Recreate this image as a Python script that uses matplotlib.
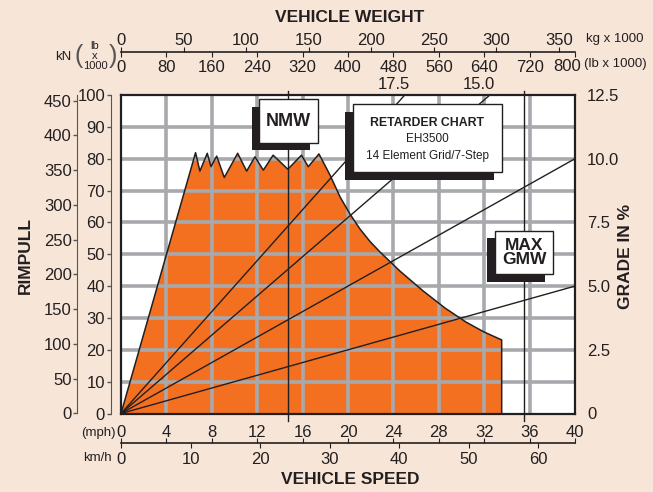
import matplotlib
matplotlib.use("Agg")
import matplotlib.pyplot as plt
from matplotlib.patches import Rectangle
from matplotlib import font_manager

# ---------- data ----------
# retarder curve: vehicle speed (mph) vs rimpull (lb x 1000)
speed_mph = [0, 6.57, 6.95, 7.6, 7.93, 8.43, 9.1, 10.28, 11.07, 11.8, 12.54, 13.4, 14.7,
             15.9, 16.5, 17.44, 18.41, 19.3, 20.18, 21.06, 21.94, 22.82, 24.58, 26.61,
             28.55, 30.4, 31.98, 33.54, 33.54]
rimpull_klb = [0, 81.9, 76.1, 81.7, 77.5, 80.8, 74.1, 81.7, 76.1, 80.6, 76.4, 81.1, 76.7,
               81.1, 77.5, 81.5, 74.9, 68.0, 62.6, 57.9, 54.0, 50.7, 44.7, 38.5,
               33.1, 28.7, 25.6, 23.1, 0]

# grade lines: end point (weight lb x 1000, rimpull lb x 1000)
grade_labels = ["17.5", "15.0", "10.0", "5.0"]
grade_end_weight = [500, 650, 800, 800]
grade_end_rimpull = [100, 100, 80, 40]

nmw_weight = 295      # lb x 1000
gmw_weight = 711      # lb x 1000

mph_ticks = [0, 4, 8, 12, 16, 20, 24, 28, 32, 36, 40]
kmh_ticks = [0, 10, 20, 30, 40, 50, 60]
lbw_ticks = [0, 80, 160, 240, 320, 400, 480, 560, 640, 720, 800]
kg_ticks = [0, 50, 100, 150, 200, 250, 300, 350]
rim_lb_ticks = [0, 10, 20, 30, 40, 50, 60, 70, 80, 90, 100]
rim_kn_ticks = [0, 50, 100, 150, 200, 250, 300, 350, 400, 450]
grade_ticks = [0, 2.5, 5.0, 7.5, 10.0, 12.5]
grade_ticklabels = ["0", "2.5", "5.0", "7.5", "10.0", "12.5"]

# ---------- style ----------
BG = "#F7E6D8"
ORANGE = "#F37021"
GRID = "#A7A9AC"
INK = "#231F20"
AXC = "#555555"

names = {f.name for f in font_manager.fontManager.ttflist}
if "Liberation Sans Narrow" in names:
    NARROW, TSIZE, BSIZE, BSIZE_B = "Liberation Sans Narrow", 14, 10.2, 10.5
else:
    NARROW, TSIZE, BSIZE, BSIZE_B = "Liberation Sans", 12.5, 8.5, 8.8
plt.rcParams["font.family"] = ["Liberation Sans", "DejaVu Sans"]

W, H = 653, 492
fig = plt.figure(figsize=(W / 100, H / 100), dpi=100)
fig.patch.set_facecolor(BG)

def fx(x):
    return x / W

def fy(y):
    return 1 - y / H

PT = 0.72  # points per pixel at dpi 100

# main plot box
L, R, T, B = 121, 575, 95, 413.5
ax = fig.add_axes([fx(L), fy(B), (R - L) / W, (B - T) / H])
ax.set_xlim(0, 40)
ax.set_ylim(0, 100)
ax.set_facecolor("white")
ax.set_xticks([])
ax.set_yticks([])
for s in ax.spines.values():
    s.set_color(INK)
    s.set_linewidth(1.6)
    s.set_zorder(6)

ax.fill(speed_mph, rimpull_klb, color=ORANGE, lw=0, zorder=1)
for v in mph_ticks[1:-1]:
    ax.axvline(v, color=GRID, lw=2.6, zorder=2)
for v in rim_lb_ticks[1:-1]:
    ax.axhline(v, color=GRID, lw=2.6, zorder=2)
ax.plot(speed_mph, rimpull_klb, color=INK, lw=1.1, zorder=3)

w2x = 40 / 800  # weight (lb x 1000) -> speed-axis units, both span the box width
for lab, we, re in zip(grade_labels, grade_end_weight, grade_end_rimpull):
    ax.plot([0, we * w2x], [0, re], color=INK, lw=1.0, zorder=4)
    if re >= 100:
        ax.annotate(lab, (we * w2x, 100), xytext=(-8, 2), textcoords="offset points",
                    ha="center", va="bottom", fontsize=12, color=INK, annotation_clip=False)

for wv in [nmw_weight, gmw_weight]:
    ax.plot([wv * w2x, wv * w2x], [-2.2, 101.3], color=INK, lw=1.0, zorder=5, clip_on=False)

# rimpull lb axis (left, inner)
ax_lb = ax.twinx()
ax_lb.set_ylim(0, 100)
ax_lb.yaxis.tick_left()
for k, s in ax_lb.spines.items():
    s.set_visible(k == "left")
ax_lb.spines["left"].set_position(("outward", 10.5 * PT))
ax_lb.spines["left"].set_color(AXC)
ax_lb.set_yticks(rim_lb_ticks)
ax_lb.tick_params(axis="y", direction="out", length=4 * PT, width=1, color=AXC,
                  pad=1, labelsize=12, labelcolor=INK)

# rimpull kN axis (left, outer)
ax_kn = ax.twinx()
ax_kn.set_ylim(0, 458.2)
ax_kn.yaxis.tick_left()
for k, s in ax_kn.spines.items():
    s.set_visible(k == "left")
ax_kn.spines["left"].set_position(("outward", 44 * PT))
ax_kn.spines["left"].set_color(AXC)
ax_kn.set_yticks(rim_kn_ticks)
ax_kn.tick_params(axis="y", direction="out", length=4 * PT, width=1, color=AXC,
                  pad=1, labelsize=12, labelcolor=INK)

# grade axis (right)
ax_g = ax.twinx()
ax_g.set_ylim(0, 12.5)
for s in ax_g.spines.values():
    s.set_visible(False)
ax_g.set_yticks(grade_ticks)
ax_g.set_yticklabels(grade_ticklabels)
ax_g.tick_params(axis="y", length=0, pad=12 * PT, labelsize=12, labelcolor=INK)

# vehicle weight axis (top)
axT = fig.add_axes([fx(L), fy(52.3), (R - L) / W, 0.0001])
axT.patch.set_visible(False)
axT.set_xlim(0, 800)
axT.set_yticks([])
for k, s in axT.spines.items():
    s.set_visible(k == "bottom")
axT.spines["bottom"].set_color(INK)
axT.spines["bottom"].set_linewidth(1.2)
axT.set_xticks(lbw_ticks)
# last label is set a little to the left so it clears the unit text
axT.set_xticklabels([str(v) for v in lbw_ticks[:-1]] + [""])
axT.tick_params(axis="x", direction="out", length=5 * PT, color=INK, pad=2.2,
                labelsize=12, labelcolor=INK)
axT.annotate(str(lbw_ticks[-1]), (lbw_ticks[-1], 0), xytext=(-6, -4.5),
             textcoords="offset points", ha="center", va="top", fontsize=12, color=INK,
             annotation_clip=False)
axK = axT.twiny()
axK.set_xlim(0, 800 / 2.2046)
for s in axK.spines.values():
    s.set_visible(False)
axK.set_xticks(kg_ticks)
axK.tick_params(axis="x", direction="out", length=5 * PT, color=INK, pad=-0.5,
                labelsize=12, labelcolor=INK)

# vehicle speed axis (bottom)
axB = fig.add_axes([fx(L), fy(443.3), (R - L) / W, 0.0001])
axB.patch.set_visible(False)
axB.set_xlim(0, 65.3)
axB.set_yticks([])
for k, s in axB.spines.items():
    s.set_visible(k == "bottom")
axB.spines["bottom"].set_color(INK)
axB.spines["bottom"].set_linewidth(1.2)
axB.set_xticks(kmh_ticks)
axB.tick_params(axis="x", direction="out", length=5 * PT, color=INK, pad=3,
                labelsize=12, labelcolor=INK)
axM = axB.twiny()
axM.set_xlim(0, 40)
for s in axM.spines.values():
    s.set_visible(False)
axM.set_xticks(mph_ticks)
axM.tick_params(axis="x", direction="out", length=5 * PT, color=INK, pad=-1.5,
                labelsize=12, labelcolor=INK)

# ---------- boxes ----------
def rect_px(x0, y0, x1, y1, **kw):
    fig.add_artist(Rectangle((fx(x0), fy(y1)), (x1 - x0) / W, (y1 - y0) / H,
                             transform=fig.transFigure, **kw))

def label_box(x0, y0, x1, y1, dx, dy):
    rect_px(x0 + dx, y0 + dy, x1 + dx, y1 + dy, facecolor=INK, edgecolor="none", zorder=10)
    rect_px(x0, y0, x1, y1, facecolor="white", edgecolor=INK, lw=1.0, zorder=11)

label_box(259.3, 99.3, 317.7, 142.7, -7.5, 7.5)
fig.text(fx(288.5), fy(121), "NMW", ha="center", va="center", fontsize=13,
         fontweight="bold", color=INK, zorder=12)

label_box(352.7, 104, 501.7, 171.7, -7.7, 8)
fig.text(fx(427), fy(123), "RETARDER CHART", ha="center", va="center", fontsize=BSIZE_B,
         fontweight="bold", family=NARROW, color=INK, zorder=12)
fig.text(fx(427), fy(139.5), "EH3500", ha="center", va="center", fontsize=BSIZE,
         family=NARROW, color=INK, zorder=12)
fig.text(fx(427), fy(155.5), "14 Element Grid/7-Step", ha="center", va="center",
         fontsize=BSIZE, family=NARROW, color=INK, zorder=12)

label_box(495, 230.7, 553.3, 274, -8.5, 7.6)
fig.text(fx(524), fy(252.5), "MAX\nGMW", ha="center", va="center", fontsize=12.5,
         fontweight="bold", color=INK, linespacing=0.95, zorder=12)

# ---------- titles and unit labels ----------
fig.text(fx(350), fy(17), "VEHICLE WEIGHT", ha="center", va="center", fontsize=TSIZE,
         fontweight="bold", family=NARROW, color=INK)
fig.text(fx(350), fy(480), "VEHICLE SPEED", ha="center", va="center", fontsize=TSIZE,
         fontweight="bold", family=NARROW, color=INK)
fig.text(fx(25), fy(256), "RIMPULL", ha="center", va="center", rotation=90, fontsize=TSIZE,
         fontweight="bold", family=NARROW, color=INK)
fig.text(fx(625), fy(256), "GRADE IN %", ha="center", va="center", rotation=90,
         fontsize=TSIZE, fontweight="bold", family=NARROW, color=INK)

fig.text(fx(586), fy(39), "kg x 1000", ha="left", va="center", fontsize=9.5, color=INK)
fig.text(fx(584), fy(64), "(lb x 1000)", ha="left", va="center", fontsize=9.5, color=INK)
fig.text(fx(63), fy(57), "kN", ha="center", va="center", fontsize=9.5, color=INK)
fig.text(fx(78.5), fy(56), "(", ha="center", va="center", fontsize=18, color=AXC)
fig.text(fx(108.8), fy(56), ")", ha="left", va="center", fontsize=18, color=AXC)
fig.text(fx(95), fy(56), "lb\nx\n1000", ha="center", va="center", fontsize=8,
         color=INK, linespacing=0.95)
fig.text(fx(98.5), fy(433), "(mph)", ha="center", va="center", fontsize=9.5, color=INK)
fig.text(fx(97), fy(458), "km/h", ha="center", va="center", fontsize=9.5, color=INK)

fig.savefig("out.png", dpi=100, facecolor=BG)
